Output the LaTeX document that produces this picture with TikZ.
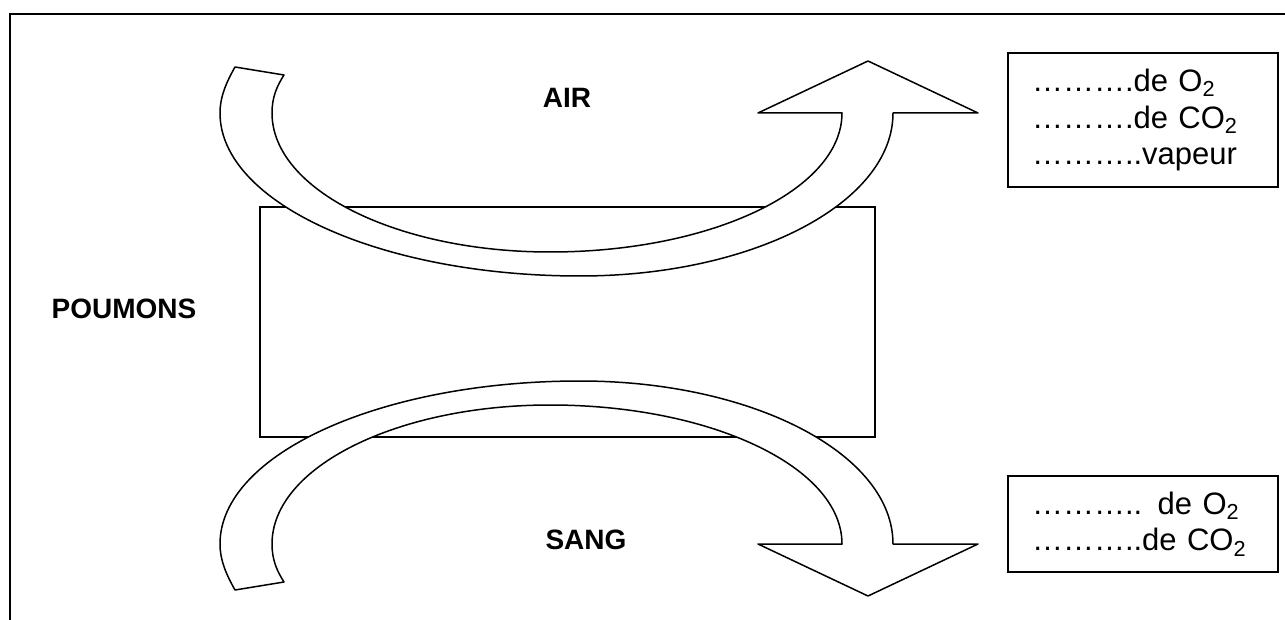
\documentclass[tikz,border=0pt]{standalone}
\usepackage{fontspec}
\setmainfont{Liberation Sans}
\usepackage{tikz}
\tikzset{%
	flow/.style = {draw,line width=0.75pt,fill=white,line join=round},
	lbl/.style = {font=\bfseries\fontsize{14}{16}\selectfont},
	infobox/.style = {draw,line width=1pt,minimum width=135pt,inner xsep=12pt,text width=111pt,align=left,font=\fontsize{15.5}{18.3}\selectfont},
	pics/bendarrow/.style = {code={
		\draw[flow] (235,67) .. controls (226,83) and (220,97) .. (220,113)
			.. controls (220,203) and (381,276) .. (580,276)
			.. controls (753,276) and (893,203) .. (893,113)
			-- (978,113) -- (868,61) -- (758,113) -- (842,113)
			.. controls (842,190) and (711,252) .. (550,252)
			.. controls (397,252) and (272,190) .. (272,113)
			.. controls (272,97) and (277,86) .. (284,75) -- cycle;
	}}%
}
\begin{document}
\begin{tikzpicture}[x=0.5pt,y=-0.5pt]
			\useasboundingbox (0,0) rectangle (1285,620);
			\draw[line width=1pt] (10,620) -- (10,14) -- (1285,14);
			
			\node(lung)[draw,line width=0.75pt,minimum width=307.5pt,minimum height=115pt,inner sep=0]at(567.5,322){};
			\pic at (0,0) {bendarrow};
			\pic[yscale=-1] at (0,657) {bendarrow};
			
			\node(air)[lbl]at(567,98){AIR};
			\node(sang)[lbl]at(586,540){SANG};
			\node(poumons)[lbl]at(124,309){POUMONS};
			
			\node(outair)[infobox,minimum height=67pt]at(1143,120){……….de O\textsubscript{2}\\……….de CO\textsubscript{2}\\………..vapeur};
			\node(outsang)[infobox,minimum height=48pt]at(1143,524){……….. de O\textsubscript{2}\\………..de CO\textsubscript{2}};
			\end{tikzpicture}
\end{document}
